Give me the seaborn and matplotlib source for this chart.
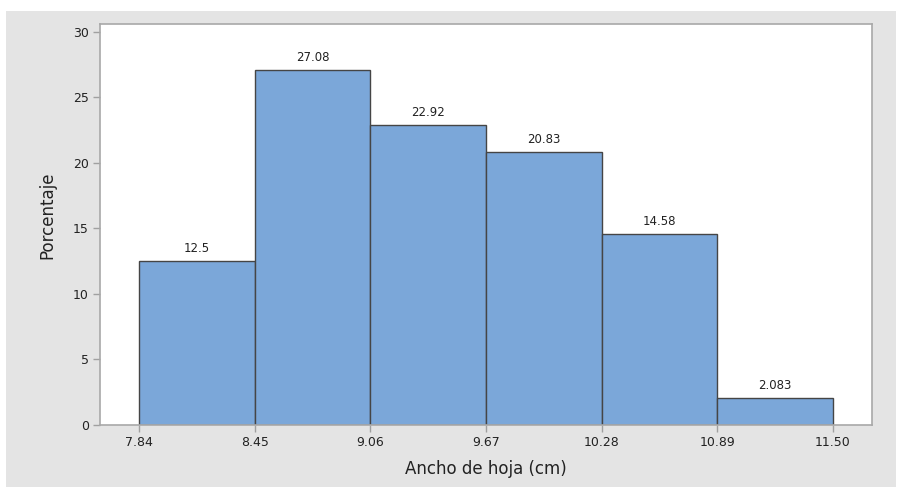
import matplotlib
matplotlib.use("Agg")
import matplotlib.pyplot as plt
import seaborn as sns
import numpy as np
import pandas as pd
from matplotlib.patches import Rectangle

bin_edges = [7.84, 8.45, 9.06, 9.67, 10.28, 10.89, 11.50]
edge_labels = ["7.84", "8.45", "9.06", "9.67", "10.28", "10.89", "11.50"]
percentages = [12.5, 27.08, 22.92, 20.83, 14.58, 2.083]
bar_labels = ["12.5", "27.08", "22.92", "20.83", "14.58", "2.083"]
y_ticks = [0, 5, 10, 15, 20, 25, 30]

sns.set_theme(style="white")
plt.rcParams['font.family'] = ['DejaVu Sans']

W, H = 902, 492
fig = plt.figure(figsize=(W / 100, H / 100), dpi=100)
fig.patch.set_facecolor("white")
fig.patches.append(Rectangle((6 / W, 1 - 487 / H), (896 - 6) / W, (487 - 11) / H,
                             transform=fig.transFigure, facecolor="#e4e4e4",
                             edgecolor="none", zorder=-10))

ax = fig.add_axes([100 / W, 1 - 425 / H, (872 - 100) / W, (425 - 24) / H])
ax.set_zorder(5)
ax.set_facecolor("white")

centers = [(bin_edges[i] + bin_edges[i + 1]) / 2 for i in range(len(percentages))]
df = pd.DataFrame({"x": centers, "pct": percentages})
sns.histplot(data=df, x="x", weights="pct", bins=bin_edges, stat="count",
             color="#7ba7d9", alpha=1.0, edgecolor="#454545", linewidth=1.0, ax=ax)

for p, lab in zip(ax.patches, bar_labels):
    ax.text(p.get_x() + p.get_width() / 2, p.get_height() + 0.45, lab,
            ha="center", va="bottom", fontsize=8.5, color="#222222")

ax.set_xlim(7.634, 11.706)
ax.set_ylim(0, 30.6)
ax.set_xticks(bin_edges)
ax.set_xticklabels(edge_labels)
ax.set_yticks(y_ticks)
ax.tick_params(axis="both", which="both", direction="out", length=5, width=1,
               color="#a0a0a0", labelsize=9, labelcolor="#222222", pad=3)
ax.tick_params(axis="x", bottom=True)
ax.tick_params(axis="y", left=True)
for s in ax.spines.values():
    s.set_color("#a8a8a8")
    s.set_linewidth(1.2)

ax.set_xlabel("Ancho de hoja (cm)", fontsize=12, color="#222222", labelpad=8)
ax.set_ylabel("Porcentaje", fontsize=12, color="#222222")
ax.yaxis.set_label_coords(-0.057, 0.524)

fig.savefig("out.png", dpi=100, facecolor=fig.get_facecolor())
